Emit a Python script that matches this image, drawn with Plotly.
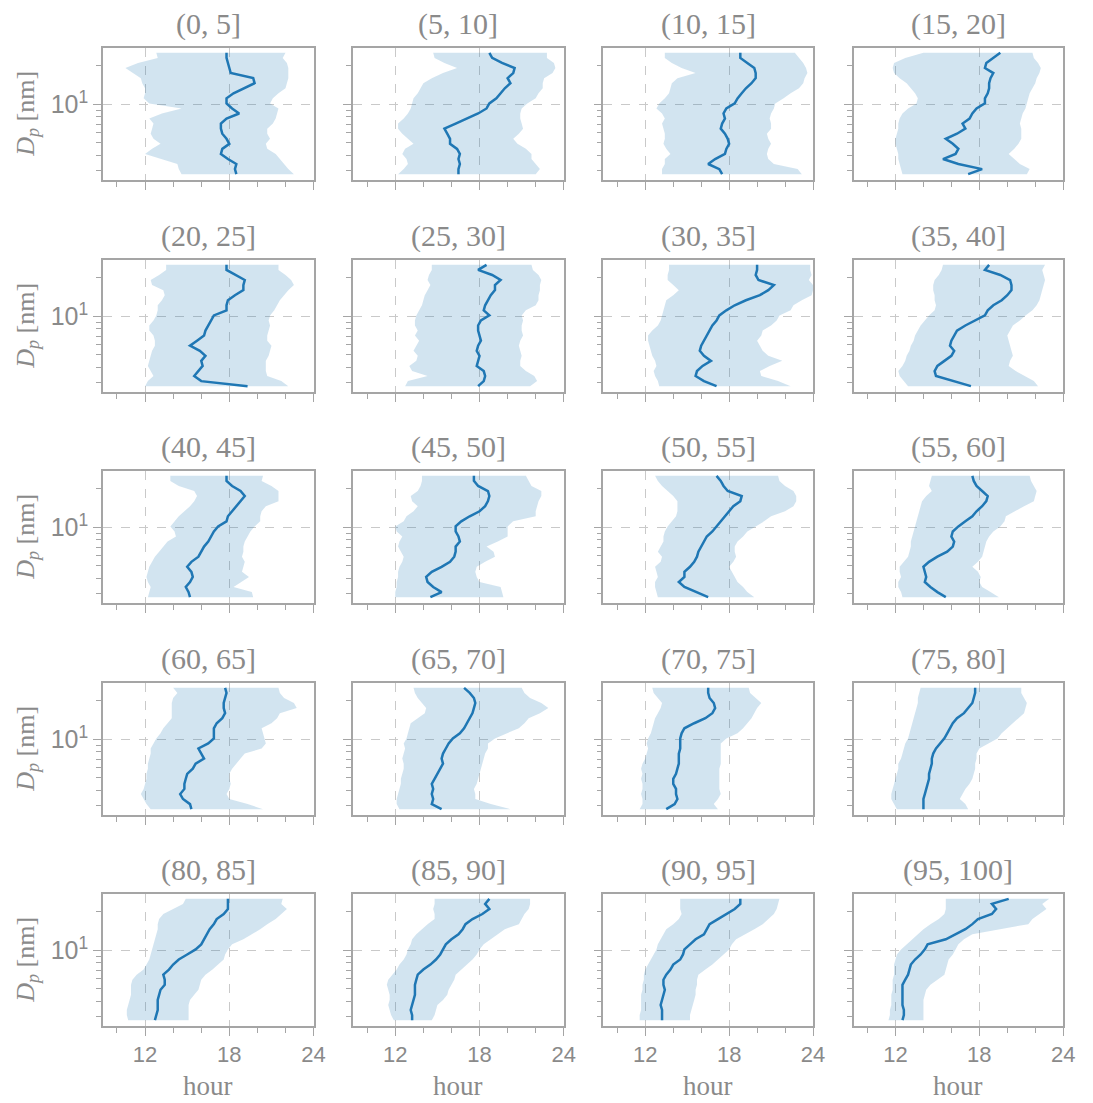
import plotly.graph_objects as go

# Percentile bins (upper-bound labels) -------------------------------------------------
bin_labels = ["(0, 5]", "(5, 10]", "(10, 15]", "(15, 20]",
              "(20, 25]", "(25, 30]", "(30, 35]", "(35, 40]",
              "(40, 45]", "(45, 50]", "(50, 55]", "(55, 60]",
              "(60, 65]", "(65, 70]", "(70, 75]", "(75, 80]",
              "(80, 85]", "(85, 90]", "(90, 95]", "(95, 100]"]

# Particle diameters [nm] (bottom to top)
dp_nm = [2.83, 3.10, 3.40, 3.72, 4.08, 4.47, 4.90, 5.36, 5.88, 6.44, 7.06, 7.73, 8.47,
         9.28, 10.17, 11.14, 12.21, 13.37, 14.65, 16.05, 17.59, 19.27, 21.11, 23.13, 25.35]

# Median hour per diameter, one list per panel
median_hour = [
    [18.5, 18.4, 18.5, 17.9, 17.4, 17.5, 18.0, 17.8, 17.5, 17.4, 17.4, 17.8, 18.7, 18.2, 17.8, 17.8, 18.3, 19.1, 19.8, 19.7, 18.1, 18.0, 17.9, 17.8, 17.8],
    [16.5, 16.5, 16.6, 16.5, 16.6, 16.4, 15.9, 15.9, 15.7, 15.5, 16.3, 17.1, 17.9, 18.5, 18.7, 19.2, 19.5, 19.8, 20.2, 20.0, 20.4, 20.5, 19.6, 18.9, 18.7],
    [17.5, 17.3, 16.5, 17.0, 17.7, 17.8, 18.0, 17.9, 17.7, 17.4, 17.5, 17.7, 17.6, 17.8, 18.4, 18.6, 18.9, 19.2, 19.6, 19.9, 19.9, 19.8, 19.3, 18.8, 18.8],
    [17.2, 18.2, 16.5, 15.4, 16.3, 16.5, 16.1, 15.6, 16.4, 17.0, 16.8, 17.3, 17.5, 17.8, 18.4, 18.4, 18.6, 18.7, 18.7, 18.8, 19.0, 18.4, 18.5, 19.0, 19.5],
    [19.3, 16.0, 15.5, 15.8, 16.1, 16.0, 16.3, 15.9, 15.2, 15.7, 16.2, 16.3, 16.5, 16.7, 16.9, 17.8, 17.8, 17.9, 18.4, 19.0, 19.0, 19.1, 18.4, 17.8, 17.8],
    [17.9, 18.3, 18.4, 18.3, 17.8, 17.9, 18.0, 17.8, 17.9, 18.1, 18.0, 17.9, 17.9, 18.1, 18.7, 18.3, 18.4, 18.6, 18.8, 19.1, 19.1, 19.5, 18.9, 17.9, 18.5],
    [17.1, 16.2, 15.6, 15.7, 16.1, 16.7, 16.2, 15.9, 16.0, 16.2, 16.4, 16.6, 16.8, 17.1, 17.3, 17.8, 18.4, 19.2, 20.2, 20.8, 21.2, 20.1, 19.9, 20.0, 20.0],
    [17.4, 16.1, 14.9, 14.8, 15.0, 15.5, 16.0, 16.2, 15.9, 16.0, 16.2, 16.4, 17.0, 17.7, 18.4, 18.6, 19.0, 19.6, 20.0, 20.3, 20.3, 20.2, 19.5, 18.4, 18.7],
    [15.2, 15.1, 14.9, 15.2, 15.4, 15.3, 15.0, 15.3, 15.8, 16.0, 16.2, 16.5, 16.7, 16.9, 17.2, 17.8, 17.9, 18.2, 18.5, 18.8, 19.1, 18.8, 18.2, 17.8, 17.8],
    [14.5, 15.3, 14.7, 14.3, 14.2, 14.6, 15.3, 15.9, 16.2, 16.3, 16.3, 16.6, 16.5, 16.3, 16.3, 16.7, 17.3, 18.0, 18.4, 18.6, 18.7, 18.6, 17.9, 17.6, 17.6],
    [16.5, 15.7, 14.8, 14.4, 14.8, 14.8, 15.2, 15.5, 15.7, 15.8, 16.0, 16.2, 16.4, 16.8, 17.1, 17.4, 17.7, 18.0, 18.3, 18.8, 18.9, 17.9, 17.6, 17.4, 17.1],
    [15.6, 15.0, 14.5, 14.1, 14.2, 14.1, 14.0, 14.4, 15.0, 15.7, 16.1, 16.2, 16.0, 16.1, 16.5, 17.0, 17.5, 17.8, 18.2, 18.5, 18.6, 18.2, 17.8, 17.6, 17.5],
    [15.3, 15.2, 14.7, 14.5, 14.8, 14.8, 14.9, 15.0, 15.4, 15.6, 16.2, 16.0, 15.8, 16.5, 16.9, 16.9, 16.9, 17.1, 17.5, 17.7, 17.6, 17.6, 17.7, 17.8, 17.7],
    [15.3, 14.6, 14.7, 14.6, 14.7, 14.6, 14.8, 15.0, 15.2, 15.4, 15.3, 15.4, 15.6, 15.8, 16.1, 16.6, 16.9, 17.1, 17.3, 17.5, 17.6, 17.7, 17.6, 17.3, 16.9],
    [13.5, 14.1, 14.3, 14.2, 14.2, 14.0, 14.0, 14.2, 14.3, 14.4, 14.4, 14.4, 14.5, 14.5, 14.5, 14.6, 14.8, 15.5, 16.3, 16.8, 17.0, 16.9, 16.6, 16.5, 16.5],
    [14.0, 14.0, 14.0, 14.1, 14.2, 14.3, 14.4, 14.4, 14.5, 14.6, 14.6, 14.7, 14.9, 15.2, 15.5, 15.7, 15.9, 16.1, 16.4, 16.9, 17.2, 17.5, 17.6, 17.7, 17.7],
    [12.7, 12.8, 12.9, 12.9, 12.9, 13.0, 13.1, 13.4, 13.4, 13.3, 13.7, 14.0, 14.4, 15.0, 15.6, 16.0, 16.2, 16.4, 16.6, 16.9, 17.1, 17.6, 17.9, 17.9, 17.9],
    [13.2, 13.2, 13.1, 13.2, 13.3, 13.4, 13.4, 13.4, 13.5, 13.6, 14.0, 14.5, 14.9, 15.2, 15.4, 15.6, 16.0, 16.5, 16.8, 17.0, 17.5, 18.2, 18.7, 18.4, 18.7],
    [13.2, 13.2, 13.2, 13.1, 13.2, 13.3, 13.4, 13.3, 13.3, 13.5, 13.8, 14.0, 14.5, 14.7, 14.8, 15.2, 15.6, 16.2, 16.4, 16.6, 17.2, 17.8, 18.4, 18.8, 18.8],
    [12.5, 12.6, 12.6, 12.5, 12.5, 12.5, 12.5, 12.5, 12.7, 12.9, 13.0, 13.1, 13.4, 13.8, 14.1, 14.3, 15.6, 16.3, 17.0, 17.5, 17.9, 18.9, 19.2, 18.9, 20.1],
]

# Lower edge of the shaded band (hour)
lower_hour = [
    [14.6, 14.4, 14.3, 13.1, 12.0, 12.5, 13.1, 12.6, 12.4, 12.5, 12.6, 12.3, 13.2, 14.6, 12.3, 11.9, 12.0, 12.0, 11.8, 11.7, 11.1, 10.6, 11.5, 12.9, 12.8],
    [12.2, 12.6, 12.9, 12.8, 12.5, 12.7, 13.3, 12.9, 12.5, 12.2, 12.2, 12.6, 12.9, 13.1, 13.2, 13.3, 13.6, 13.8, 14.0, 14.6, 15.4, 16.4, 15.5, 14.8, 14.7],
    [13.2, 13.2, 13.4, 13.4, 13.8, 13.5, 13.3, 13.4, 13.4, 13.3, 13.2, 13.4, 13.2, 12.8, 13.0, 13.4, 13.7, 13.8, 13.9, 14.3, 15.6, 14.6, 13.9, 13.4, 13.4],
    [12.5, 12.4, 12.3, 12.2, 12.2, 12.1, 12.0, 12.0, 12.1, 12.2, 12.2, 12.3, 12.5, 12.9, 13.5, 13.6, 13.4, 13.1, 12.8, 12.3, 11.9, 11.8, 11.9, 12.7, 14.0],
    [12.0, 12.2, 12.6, 12.4, 12.2, 12.3, 12.4, 12.5, 12.7, 12.7, 12.6, 12.3, 12.3, 12.6, 12.8, 12.9, 12.9, 13.2, 13.4, 13.3, 12.5, 12.4, 13.0, 13.5, 13.5],
    [12.7, 12.9, 14.3, 13.2, 13.0, 13.5, 13.6, 13.3, 13.5, 13.7, 13.4, 13.6, 13.4, 13.4, 13.5, 13.7, 13.9, 14.0, 14.1, 14.3, 14.5, 14.3, 14.4, 14.6, 14.6],
    [13.0, 12.9, 12.7, 12.6, 12.8, 12.7, 12.5, 12.4, 12.3, 12.2, 12.2, 12.5, 12.9, 13.1, 13.2, 13.3, 13.4, 13.5, 14.0, 14.4, 14.0, 13.6, 13.6, 13.7, 13.7],
    [12.9, 12.6, 12.3, 12.2, 12.5, 12.7, 12.8, 13.0, 13.1, 13.3, 13.4, 13.6, 13.8, 14.1, 14.4, 14.8, 14.9, 14.8, 14.8, 14.7, 14.7, 14.8, 15.1, 15.3, 15.4],
    [12.2, 12.3, 12.4, 12.2, 12.1, 12.2, 12.3, 12.5, 12.7, 13.0, 13.3, 13.6, 14.2, 14.1, 13.8, 14.1, 14.4, 14.8, 15.2, 15.5, 15.7, 15.5, 14.4, 13.8, 13.8],
    [12.0, 12.0, 12.1, 12.1, 12.2, 12.2, 12.3, 12.5, 12.6, 12.4, 12.2, 12.3, 12.5, 12.1, 12.0, 12.6, 12.8, 13.3, 13.6, 13.2, 13.1, 13.6, 13.8, 13.9, 13.9],
    [12.9, 12.8, 12.7, 12.7, 12.9, 12.8, 12.7, 13.1, 13.2, 12.9, 13.1, 13.3, 13.3, 13.4, 13.6, 13.9, 14.2, 14.3, 14.3, 14.3, 14.0, 13.6, 13.2, 12.9, 12.7],
    [12.5, 12.4, 12.2, 12.2, 12.4, 12.3, 12.3, 12.6, 12.9, 13.0, 13.1, 13.1, 13.2, 13.3, 13.4, 13.5, 13.6, 13.7, 13.8, 13.9, 14.2, 14.6, 14.4, 14.5, 14.6],
    [12.4, 12.1, 11.9, 11.7, 11.9, 12.0, 12.1, 12.1, 12.2, 12.2, 12.3, 12.4, 12.4, 12.6, 12.8, 13.1, 13.3, 13.6, 13.9, 13.9, 13.9, 13.9, 14.0, 14.3, 14.0],
    [12.3, 12.1, 12.1, 12.2, 12.3, 12.4, 12.4, 12.5, 12.6, 12.6, 12.5, 12.6, 12.7, 12.6, 12.8, 12.9, 13.0, 13.1, 13.6, 14.1, 14.2, 13.9, 13.6, 13.4, 13.3],
    [11.6, 11.8, 11.8, 11.7, 11.8, 11.8, 11.7, 11.8, 11.7, 11.8, 12.0, 12.1, 12.2, 12.1, 12.2, 12.4, 12.5, 12.6, 12.7, 12.9, 13.1, 13.2, 12.9, 12.6, 12.5],
    [12.1, 11.9, 11.7, 11.7, 11.8, 11.9, 12.0, 12.1, 12.2, 12.2, 12.4, 12.5, 12.6, 12.7, 12.9, 13.0, 13.1, 13.2, 13.3, 13.4, 13.5, 13.6, 13.6, 13.7, 13.8],
    [10.8, 10.7, 10.7, 10.8, 10.9, 11.0, 11.0, 11.0, 11.1, 11.4, 11.9, 12.1, 12.3, 12.4, 12.5, 12.6, 12.7, 12.8, 12.9, 12.9, 13.0, 13.3, 14.0, 14.7, 14.9],
    [11.9, 11.7, 11.6, 11.5, 11.6, 11.6, 11.5, 11.4, 11.5, 11.8, 12.1, 12.3, 12.6, 12.8, 12.9, 13.1, 13.2, 13.5, 13.9, 14.3, 14.8, 14.8, 14.7, 14.8, 14.8],
    [11.6, 11.6, 11.7, 11.7, 11.7, 11.7, 11.8, 11.8, 11.9, 11.9, 12.0, 12.2, 12.4, 12.6, 12.8, 12.9, 13.1, 13.3, 13.5, 14.0, 14.4, 14.6, 14.5, 14.5, 14.5],
    [11.5, 11.6, 11.6, 11.7, 11.7, 11.7, 11.8, 11.8, 11.8, 11.9, 11.9, 11.9, 12.0, 12.1, 12.4, 12.8, 13.2, 13.6, 14.0, 14.5, 15.1, 15.5, 15.6, 15.6, 15.6],
]

# Upper edge of the shaded band (hour)
upper_hour = [
    [22.6, 22.2, 21.9, 21.6, 21.3, 20.7, 20.6, 20.9, 20.7, 20.7, 21.1, 21.3, 21.4, 21.5, 20.9, 21.1, 21.5, 22.0, 22.1, 22.2, 22.2, 22.2, 22.1, 21.8, 22.0],
    [22.0, 22.3, 22.0, 21.7, 21.7, 21.3, 20.7, 20.4, 20.8, 21.1, 21.0, 20.9, 20.9, 21.0, 21.4, 22.0, 22.2, 22.5, 22.5, 22.6, 23.2, 23.4, 23.3, 22.8, 22.8],
    [23.2, 22.9, 21.2, 20.8, 20.7, 20.8, 21.0, 20.8, 20.7, 21.0, 21.0, 20.9, 21.0, 21.2, 21.3, 21.9, 22.4, 23.0, 23.3, 23.4, 23.6, 23.5, 23.3, 23.0, 22.7],
    [21.4, 21.6, 20.9, 20.5, 20.1, 20.5, 20.8, 21.0, 21.0, 21.0, 20.9, 21.0, 21.1, 21.3, 21.4, 21.5, 21.6, 21.8, 22.0, 22.1, 22.3, 22.4, 22.2, 21.9, 21.8],
    [22.2, 21.7, 20.7, 20.6, 20.6, 20.6, 20.8, 20.9, 21.0, 20.7, 20.7, 20.8, 20.9, 20.8, 20.9, 21.2, 21.4, 21.6, 21.9, 22.2, 22.6, 22.4, 22.0, 21.5, 21.5],
    [21.6, 22.1, 21.9, 21.3, 20.9, 20.9, 21.0, 20.9, 20.8, 20.9, 21.1, 21.0, 21.0, 21.1, 21.0, 21.3, 22.0, 22.2, 22.2, 22.3, 22.3, 22.4, 22.2, 21.8, 21.7],
    [22.4, 21.5, 20.3, 20.2, 20.9, 21.8, 20.8, 20.4, 20.2, 20.0, 20.3, 20.4, 21.0, 21.4, 21.6, 22.4, 22.6, 23.2, 23.9, 24.0, 24.0, 23.7, 23.9, 23.8, 23.8],
    [22.2, 21.9, 21.2, 20.6, 20.1, 20.2, 20.4, 20.3, 20.2, 20.1, 20.0, 20.2, 20.4, 20.9, 21.3, 21.8, 22.1, 22.3, 22.4, 22.5, 22.6, 22.7, 22.6, 22.5, 22.7],
    [19.7, 19.6, 18.3, 18.8, 19.4, 18.9, 19.0, 19.1, 18.9, 19.0, 19.0, 19.1, 19.3, 19.5, 19.8, 20.2, 20.2, 20.3, 20.6, 21.5, 21.5, 21.5, 21.0, 20.3, 20.4],
    [19.7, 19.6, 19.5, 18.0, 17.8, 17.7, 17.8, 18.4, 19.1, 19.0, 18.5, 19.3, 20.0, 20.0, 20.0, 20.4, 22.0, 22.0, 22.1, 22.2, 22.4, 22.4, 21.7, 21.5, 21.3],
    [19.8, 19.3, 19.0, 18.6, 18.4, 18.2, 18.0, 18.3, 18.5, 18.4, 18.4, 18.6, 19.0, 19.3, 19.9, 20.5, 21.0, 22.0, 22.6, 22.8, 22.8, 22.6, 22.0, 21.6, 21.5],
    [19.4, 18.8, 18.2, 18.0, 18.1, 17.9, 17.5, 17.9, 18.2, 18.3, 18.4, 18.5, 18.7, 19.0, 19.5, 19.8, 19.9, 20.5, 21.2, 21.9, 22.0, 22.1, 21.9, 21.7, 21.6],
    [20.4, 19.3, 18.0, 17.8, 18.0, 18.1, 18.0, 18.0, 18.2, 18.5, 18.8, 19.1, 20.3, 20.6, 20.5, 20.4, 20.3, 21.0, 21.4, 21.6, 22.8, 22.6, 21.9, 21.6, 21.5],
    [20.2, 18.8, 17.7, 17.7, 17.6, 17.8, 17.9, 18.0, 18.1, 18.2, 18.3, 18.4, 18.6, 18.6, 19.1, 20.0, 20.8, 21.2, 21.5, 22.3, 22.9, 22.4, 21.6, 21.2, 21.0],
    [17.2, 16.9, 17.2, 17.4, 17.3, 17.3, 17.3, 17.3, 17.3, 17.4, 17.4, 17.4, 17.4, 17.4, 17.8, 18.6, 19.0, 19.3, 19.6, 19.8, 20.0, 20.3, 19.9, 19.5, 19.4],
    [17.2, 17.0, 16.6, 16.8, 17.0, 17.3, 17.5, 17.6, 17.7, 17.7, 17.8, 17.8, 18.0, 18.6, 19.3, 19.6, 20.0, 20.4, 20.8, 21.2, 21.3, 21.4, 21.2, 21.0, 21.0],
    [15.1, 15.1, 15.1, 15.1, 15.2, 15.5, 15.8, 15.9, 16.0, 16.3, 16.8, 17.2, 17.6, 17.7, 17.9, 18.2, 19.0, 19.6, 20.2, 20.7, 21.3, 21.7, 22.1, 21.7, 21.8],
    [14.6, 14.8, 14.9, 15.0, 15.4, 15.7, 15.8, 16.0, 16.2, 16.3, 16.7, 17.1, 17.5, 17.8, 18.0, 18.3, 18.8, 19.3, 19.8, 20.8, 21.0, 21.2, 21.5, 21.6, 21.6],
    [15.2, 15.2, 15.3, 15.4, 15.5, 15.6, 15.6, 15.7, 15.7, 15.8, 16.3, 16.8, 17.2, 17.6, 18.0, 18.2, 18.5, 19.1, 19.8, 20.4, 20.8, 21.2, 21.4, 21.5, 21.6],
    [14.0, 14.0, 14.0, 14.0, 14.0, 14.1, 14.2, 14.5, 15.0, 15.5, 15.6, 15.7, 15.8, 16.1, 16.3, 16.5, 16.9, 17.5, 19.5, 21.5, 21.8, 22.3, 22.8, 22.5, 23.0],
]

x_ticks = [12, 18, 24]
x_minor = [10, 14, 16, 20, 22]
y_major = [10]
y_major_text = ["10<sup>1</sup>"]
y_minor = [3, 4, 5, 6, 7, 8, 9, 20]

# ------------------------------------------------------------------ layout geometry
# the page body keeps its default 8 px margin, so the figure starts at (8, 8)
OFF = 8
FW, FH = 1093 - OFF, 1103 - OFF
col_px = [(104, 317), (357, 570), (610, 822), (863, 1075)]
row_px = [(48, 180), (260, 392), (471, 603), (683, 815), (894, 1026)]


def px_x(p):
    return (p - OFF) / FW


def px_y(p):
    return 1 - (p - OFF) / FH


GRAY = "#8a8a8a"
FRAME = "#a5a5a5"
LINE = "#1f77b4"
FILL = "rgba(31,119,180,0.2)"
SERIF = "Liberation Serif, DejaVu Serif, serif"
SANS = "Liberation Sans, DejaVu Sans, sans-serif"

fig = go.Figure()
layout = dict(width=FW, height=FH, margin=dict(l=0, r=0, t=0, b=0),
              paper_bgcolor="white", plot_bgcolor="white", showlegend=False)
annotations = []

for k in range(20):
    r, c = divmod(k, 4)
    n = k + 1
    xa = "x" if n == 1 else f"x{n}"
    ya = "y" if n == 1 else f"y{n}"
    lo, hi, med = lower_hour[k], upper_hour[k], median_hour[k]
    fig.add_trace(go.Scatter(x=lo + hi[::-1], y=dp_nm + dp_nm[::-1], fill="toself",
                             fillcolor=FILL, line=dict(width=0), mode="lines",
                             hoverinfo="skip", xaxis=xa, yaxis=ya))
    fig.add_trace(go.Scatter(x=med, y=dp_nm, mode="lines",
                             line=dict(color=LINE, width=2.5), xaxis=xa, yaxis=ya))
    x0, x1 = col_px[c]
    yt, yb = row_px[r]
    xkey = "xaxis" if n == 1 else f"xaxis{n}"
    ykey = "yaxis" if n == 1 else f"yaxis{n}"
    layout[xkey] = dict(
        domain=[px_x(x0), px_x(x1)], anchor=ya, range=[9, 24],
        tickmode="array", tickvals=x_ticks, ticktext=[str(v) for v in x_ticks],
        showticklabels=(r == 4), ticks="outside", ticklen=8, tickwidth=1.2,
        tickcolor=FRAME, tickfont=dict(family=SANS, size=22, color=GRAY),
        minor=dict(tickvals=x_minor, ticks="outside", ticklen=5, tickwidth=1,
                   tickcolor=FRAME, showgrid=False),
        showgrid=True, gridcolor="#c9c9c9", griddash="dash", gridwidth=1,
        showline=True, linecolor=FRAME, linewidth=1.5, mirror=True, zeroline=False,
        fixedrange=True)
    layout[ykey] = dict(
        domain=[px_y(yb), px_y(yt)], anchor=xa, type="log",
        range=[0.406, 1.442], tickmode="array", tickvals=y_major, ticktext=y_major_text,
        showticklabels=(c == 0), ticks="outside", ticklen=8, tickwidth=1.2,
        tickcolor=FRAME, tickfont=dict(family=SANS, size=25, color=GRAY),
        minor=dict(tickvals=y_minor, ticks="outside", ticklen=5, tickwidth=1,
                   tickcolor=FRAME, showgrid=False),
        showgrid=True, gridcolor="#c9c9c9", griddash="dash", gridwidth=1,
        showline=True, linecolor=FRAME, linewidth=1.5, mirror=True, zeroline=False,
        fixedrange=True)
    # panel title
    annotations.append(dict(text=bin_labels[k], x=px_x((x0 + x1) / 2), y=px_y(yt - 24),
                            xref="paper", yref="paper", xanchor="center", yanchor="middle",
                            showarrow=False, font=dict(family=SERIF, size=30, color=GRAY)))
    if c == 0:
        annotations.append(dict(text="<i>D</i><sub><i>p</i></sub> [nm]", x=px_x(27),
                                y=px_y((yt + yb) / 2), xref="paper", yref="paper",
                                xanchor="center", yanchor="middle", textangle=-90,
                                showarrow=False, font=dict(family=SERIF, size=26, color=GRAY)))
    if r == 4:
        annotations.append(dict(text="hour", x=px_x((x0 + x1) / 2), y=px_y(1086),
                                xref="paper", yref="paper", xanchor="center", yanchor="middle",
                                showarrow=False, font=dict(family=SERIF, size=27, color=GRAY)))

layout["annotations"] = annotations
fig.update_layout(**layout)
fig.write_html("out.html")
